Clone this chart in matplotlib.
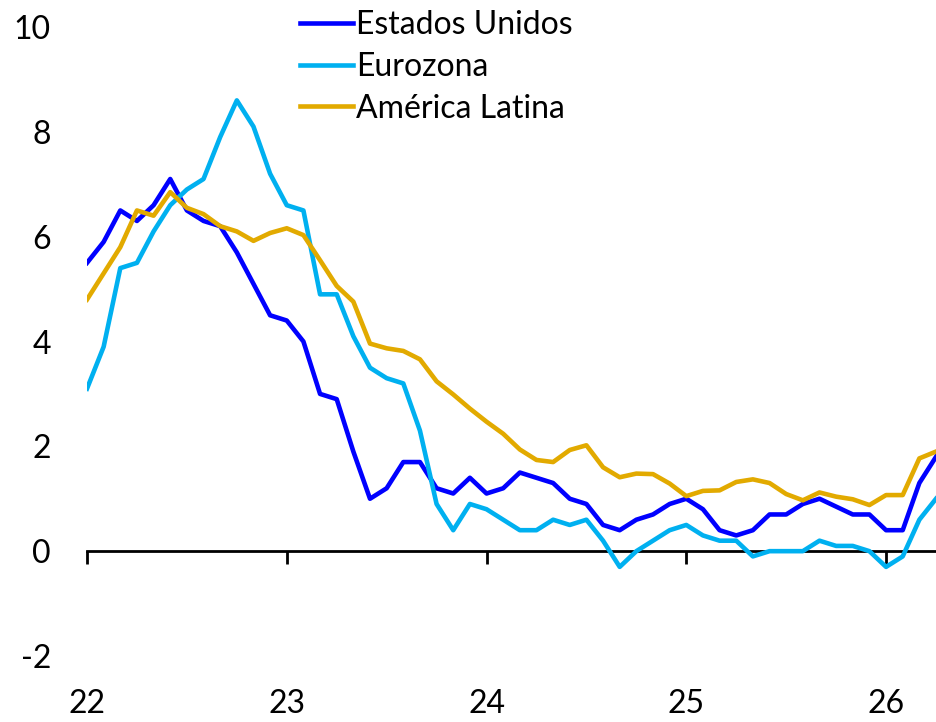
import numpy as np
import matplotlib
matplotlib.use("Agg")
import matplotlib.pyplot as plt

plt.rcParams["font.family"] = ["Lato", "DejaVu Sans"]
plt.rcParams["axes.unicode_minus"] = False

# monthly data, Jan 2022 .. Apr 2026
start_year = 22
estados_unidos = [5.5, 5.9, 6.5, 6.3, 6.6, 7.1, 6.5, 6.3, 6.2, 5.7, 5.1, 4.5,
                  4.4, 4.0, 3.0, 2.9, 1.9, 1.0, 1.2, 1.7, 1.7, 1.2, 1.1, 1.4,
                  1.1, 1.2, 1.5, 1.4, 1.3, 1.0, 0.9, 0.5, 0.4, 0.6, 0.7, 0.9,
                  1.0, 0.8, 0.4, 0.3, 0.4, 0.7, 0.7, 0.9, 1.0, 0.85, 0.7, 0.7,
                  0.4, 0.4, 1.3, 1.8]
eurozona = [3.1, 3.9, 5.4, 5.5, 6.1, 6.6, 6.9, 7.1, 7.9, 8.6, 8.1, 7.2,
            6.6, 6.5, 4.9, 4.9, 4.1, 3.5, 3.3, 3.2, 2.3, 0.9, 0.4, 0.9,
            0.8, 0.6, 0.4, 0.4, 0.6, 0.5, 0.6, 0.2, -0.3, 0.0, 0.2, 0.4,
            0.5, 0.3, 0.2, 0.2, -0.1, 0.0, 0.0, 0.0, 0.2, 0.1, 0.1, 0.0,
            -0.3, -0.1, 0.6, 1.0]
america_latina = [4.8, 5.3, 5.8, 6.5, 6.4, 6.85, 6.55, 6.43, 6.2, 6.1, 5.92, 6.07,
                  6.16, 6.03, 5.55, 5.06, 4.76, 3.96, 3.87, 3.82, 3.66, 3.24, 2.99, 2.72,
                  2.47, 2.24, 1.94, 1.74, 1.70, 1.93, 2.02, 1.6, 1.41, 1.48, 1.47, 1.29,
                  1.05, 1.15, 1.16, 1.32, 1.37, 1.3, 1.09, 0.97, 1.12, 1.04, 0.99, 0.88,
                  1.07, 1.07, 1.77, 1.9]
year_ticks = [22, 23, 24, 25, 26]
y_ticks = [-2, 0, 2, 4, 6, 8, 10]

x = start_year + np.arange(len(estados_unidos)) / 12

fig = plt.figure(figsize=(9.36, 7.22), dpi=100)
ax = fig.add_axes([87 / 936, 1 - 656 / 722, 1 - 87 / 936, (656 - 27) / 722])

ax.plot(x, estados_unidos, color="#0000FF", lw=3.3, label="Estados Unidos")
ax.plot(x, eurozona, color="#00B0F0", lw=3.3, label="Eurozona")
ax.plot(x, america_latina, color="#E2AA00", lw=3.3, label="América Latina")

ax.set_xlim(x[0], x[-1])
ax.set_ylim(-2, 10)

for side in ["top", "right", "left"]:
    ax.spines[side].set_visible(False)
ax.spines["bottom"].set_position(("data", 0))
ax.spines["bottom"].set_linewidth(2)
ax.spines["bottom"].set_zorder(1)

ax.set_xticks(year_ticks)
ax.set_xticklabels([str(t) for t in year_ticks])
ax.tick_params(axis="x", direction="out", length=9, width=2, pad=90,
               labelsize=23, labelcolor="black")
ax.set_yticks(y_ticks)
ax.tick_params(axis="y", length=0, pad=26, labelsize=23, labelcolor="black")

ax.legend(loc="upper left", bbox_to_anchor=(300 / 936, 1 - 10 / 722),
          bbox_transform=fig.transFigure, frameon=False, fontsize=23,
          handlelength=1.65, handletextpad=0.1, labelspacing=0.37,
          borderaxespad=0, borderpad=0)

fig.savefig("out.png", dpi=100)
